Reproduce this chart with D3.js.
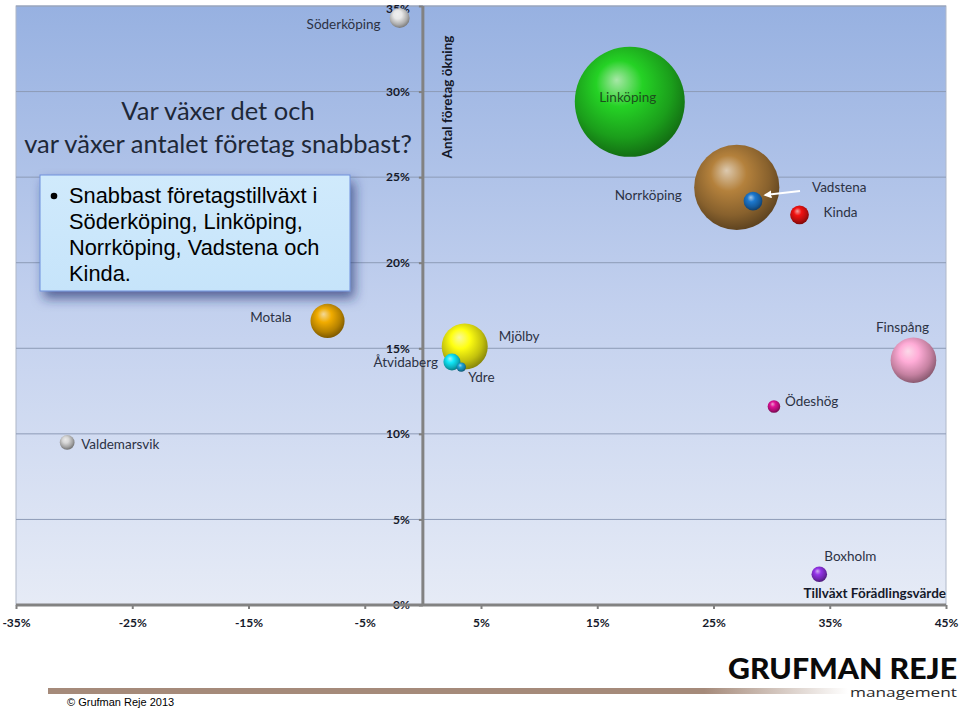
<!DOCTYPE html>
<html lang="sv">
<head>
<meta charset="UTF-8">
<title>Var växer det och var växer antalet företag snabbast?</title>
<script src="https://cdnjs.cloudflare.com/ajax/libs/d3/7.8.5/d3.min.js"></script>
<style>
  body { margin: 0; background: #ffffff; }
  svg { display: block; }
</style>
</head>
<body>
<script>
    // Data
    var kommuner = ["Söderköping", "Linköping", "Norrköping", "Vadstena", "Kinda", "Motala", "Mjölby",
                    "Åtvidaberg", "Ydre", "Finspång", "Ödeshög", "Boxholm", "Valdemarsvik"];
    // Tillväxt förädlingsvärde (%)
    var tillvaxt = [-2.0, 17.8, 27.0, 28.4, 32.4, -8.2, 3.6, 2.5, 3.3, 42.2, 30.2, 34.1, -30.6];
    // Antal företag ökning (%)
    var foretagOkning = [34.3, 29.4, 24.4, 23.6, 22.8, 16.6, 15.1, 14.2, 13.9, 14.3, 11.6, 1.8, 9.5];
    // Bubble size (relative)
    var storlek = [3.3, 100, 60, 2.9, 2.9, 9.6, 17.5, 2.4, 0.73, 17.2, 1.3, 2.0, 1.8];

    var xTicks = [-35, -25, -15, -5, 5, 15, 25, 35, 45];
    var yTicks = [0, 5, 10, 15, 20, 25, 30, 35];

    var kulFarger = ["#d8d8d8", "#22c422", "#a87838", "#1a70c0", "#e01010", "#e0a000", "#f0ee10",
                     "#10d8e8", "#1a98c8", "#f4a0c8", "#d0108c", "#8a30d8", "#c8c8c8"];

    // label placement relative to bubble centre [dx, dy (baseline), anchor]
    var etiketter = {
        "Söderköping": [-19, 11, "end"],
        "Linköping": [-2, 0, "middle"],
        "Norrköping": [-55, 13, "end"],
        "Vadstena": [59, -9, "start"],
        "Kinda": [24, 2, "start"],
        "Motala": [-36, 1, "end"],
        "Mjölby": [34, -6, "start"],
        "Åtvidaberg": [-14, 5, "end"],
        "Ydre": [7, 15, "start"],
        "Finspång": [-11, -28, "middle"],
        "Ödeshög": [11, 0, "start"],
        "Boxholm": [5, -13, "start"],
        "Valdemarsvik": [14, 7, "start"]
    };

    var data = kommuner.map(function(k, i) {
        return {namn: k, x: tillvaxt[i], y: foretagOkning[i], s: storlek[i]};
    });

    var W = 960, H = 710;
    var svg = d3.select("body").append("svg").attr("width", W).attr("height", H);
    var defs = svg.append("defs");

    var xScale = d3.scaleLinear().domain([-35, 45]).range([16, 946]);
    var yScale = d3.scaleLinear().domain([0, 35]).range([605, 6]);
    var rScale = d3.scaleSqrt().domain([0, 100]).range([0, 55]);
    var farg = d3.scaleOrdinal(kommuner, kulFarger);

    // plot background gradient
    var bg = defs.append("linearGradient").attr("id", "bg").attr("x1", 0).attr("y1", 0).attr("x2", 0).attr("y2", 1);
    bg.append("stop").attr("offset", "0%").attr("stop-color", "#97b1e1");
    bg.append("stop").attr("offset", "50%").attr("stop-color", "#c2d0ee");
    bg.append("stop").attr("offset", "100%").attr("stop-color", "#e6ebf6");

    svg.append("rect")
        .attr("x", xScale(-35)).attr("y", yScale(35))
        .attr("width", xScale(45) - xScale(-35)).attr("height", yScale(0) - yScale(35))
        .attr("fill", "url(#bg)")
        .attr("stroke", "#b0b8c8").attr("stroke-width", 1);

    // horizontal gridlines
    svg.append("g").selectAll("line")
        .data(yTicks.filter(function(d) { return d > 0; }))
        .enter().append("line")
        .attr("x1", xScale(-35)).attr("x2", xScale(45))
        .attr("y1", function(d) { return yScale(d); })
        .attr("y2", function(d) { return yScale(d); })
        .attr("stroke", "#8d9bb6").attr("stroke-width", 1);

    // title
    var titel = svg.append("text")
        .attr("text-anchor", "middle")
        .style("font-family", "Lato, 'Open Sans', sans-serif")
        .style("font-size", "25.5px")
        .attr("fill", "#1e2838");
    titel.append("tspan").attr("x", 218).attr("y", 120).text("Var växer det och");
    titel.append("tspan").attr("x", 218).attr("y", 153).text("var växer antalet företag snabbast?");

    // axes
    var axisFont = "Lato, 'Open Sans', sans-serif";
    var yAxis = d3.axisLeft(yScale).tickValues(yTicks).tickFormat(function(d) { return d + "%"; })
        .tickSize(4).tickPadding(9);
    var gy = svg.append("g").attr("transform", "translate(" + xScale(0) + ",0)").call(yAxis);
    gy.select(".domain").remove();
    gy.selectAll("line").attr("stroke", "#808080").attr("stroke-width", 2);
    gy.selectAll("text").style("font-family", axisFont).style("font-size", "12px")
        .style("font-weight", "bold").attr("fill", "#15192a");
    // keep the top label inside the picture
    gy.selectAll(".tick").filter(function(d) { return d === 35; }).select("text").attr("dy", "0.55em");

    var xAxis = d3.axisBottom(xScale).tickValues(xTicks).tickFormat(function(d) { return d + "%"; })
        .tickSize(4).tickPadding(9);
    var gx = svg.append("g").attr("transform", "translate(0," + yScale(0) + ")").call(xAxis);
    gx.select(".domain").remove();
    gx.selectAll("line").attr("stroke", "#808080").attr("stroke-width", 2);
    gx.selectAll("text").style("font-family", axisFont).style("font-size", "12px")
        .style("font-weight", "bold").attr("fill", "#15192a");

    svg.append("line")
        .attr("x1", xScale(0)).attr("x2", xScale(0))
        .attr("y1", yScale(35)).attr("y2", yScale(0))
        .attr("stroke", "#828282").attr("stroke-width", 3);
    svg.append("line")
        .attr("x1", xScale(-35)).attr("x2", xScale(45))
        .attr("y1", yScale(0)).attr("y2", yScale(0))
        .attr("stroke", "#828282").attr("stroke-width", 3);

    // axis titles
    svg.append("text")
        .attr("transform", "translate(" + (xScale(0) + 29) + "," + 97 + ") rotate(-90)")
        .attr("text-anchor", "middle")
        .style("font-family", axisFont).style("font-size", "13.5px").style("font-weight", "bold")
        .attr("fill", "#15192a")
        .text("Antal företag ökning");
    svg.append("text")
        .attr("x", xScale(45)).attr("y", yScale(0) - 7)
        .attr("text-anchor", "end")
        .style("font-family", axisFont).style("font-size", "13.5px").style("font-weight", "bold")
        .attr("fill", "#15192a")
        .text("Tillväxt Förädlingsvärde");

    // sphere gradients
    data.forEach(function(d, i) {
        var c = d3.color(farg(d.namn));
        var g = defs.append("radialGradient").attr("id", "kula" + i)
            .attr("cx", "45%").attr("cy", "40%").attr("r", "60%")
            .attr("fx", "38%").attr("fy", "30%");
        g.append("stop").attr("offset", "0%").attr("stop-color", d3.interpolateRgb(c, "#ffffff")(0.6));
        g.append("stop").attr("offset", "35%").attr("stop-color", c.brighter(0.2));
        g.append("stop").attr("offset", "75%").attr("stop-color", c.darker(0.6));
        g.append("stop").attr("offset", "100%").attr("stop-color", c.darker(1.6));
    });

    var bubblor = data.slice().sort(function(a, b) { return b.s - a.s; });
    svg.append("g").selectAll("circle")
        .data(bubblor)
        .enter().append("circle")
        .attr("cx", function(d) { return xScale(d.x); })
        .attr("cy", function(d) { return yScale(d.y); })
        .attr("r", function(d) { return rScale(d.s); })
        .attr("fill", function(d) { return "url(#kula" + kommuner.indexOf(d.namn) + ")"; });

    // labels
    svg.append("g").selectAll("text")
        .data(data)
        .enter().append("text")
        .attr("x", function(d) { return xScale(d.x) + etiketter[d.namn][0]; })
        .attr("y", function(d) { return yScale(d.y) + etiketter[d.namn][1]; })
        .attr("text-anchor", function(d) { return etiketter[d.namn][2]; })
        .style("font-family", "Lato, 'Open Sans', sans-serif")
        .style("font-size", "13.5px")
        .attr("fill", function(d) { return d.namn === "Linköping" ? "#1d4f1d" : "#2c3244"; })
        .text(function(d) { return d.namn; });

    // arrow to Vadstena
    defs.append("marker").attr("id", "pil").attr("viewBox", "0 0 10 10")
        .attr("refX", 8).attr("refY", 5).attr("markerWidth", 4).attr("markerHeight", 4)
        .attr("orient", "auto")
        .append("path").attr("d", "M0,0L10,5L0,10z").attr("fill", "#ffffff");
    var vad = data[kommuner.indexOf("Vadstena")];
    svg.append("line")
        .attr("x1", xScale(vad.x) + 47).attr("y1", yScale(vad.y) - 10)
        .attr("x2", xScale(vad.x) + 12).attr("y2", yScale(vad.y) - 6)
        .attr("stroke", "#ffffff").attr("stroke-width", 2)
        .attr("marker-end", "url(#pil)");

    // callout box
    var skugga = defs.append("filter").attr("id", "skugga")
        .attr("x", "-20%").attr("y", "-20%").attr("width", "150%").attr("height", "160%");
    skugga.append("feDropShadow").attr("dx", 4).attr("dy", 7).attr("stdDeviation", 6)
        .attr("flood-color", "#1c2c6a").attr("flood-opacity", 0.65);
    var rutaGrad = defs.append("linearGradient").attr("id", "ruta").attr("x1", 0).attr("y1", 0).attr("x2", 0).attr("y2", 1);
    rutaGrad.append("stop").attr("offset", "0%").attr("stop-color", "#d0eafc");
    rutaGrad.append("stop").attr("offset", "100%").attr("stop-color", "#c6e4fa");

    svg.append("rect")
        .attr("x", 40).attr("y", 175).attr("width", 310).attr("height", 116)
        .attr("fill", "url(#ruta)").attr("stroke", "#6f8fdc").attr("stroke-width", 1)
        .attr("filter", "url(#skugga)");
    svg.append("circle").attr("cx", 54).attr("cy", 196).attr("r", 3.3).attr("fill", "#000");
    var rutaText = ["Snabbast företagstillväxt i", "Söderköping, Linköping,",
                    "Norrköping, Vadstena och", "Kinda."];
    svg.append("g").selectAll("text")
        .data(rutaText)
        .enter().append("text")
        .attr("x", 69)
        .attr("y", function(d, i) { return 203 + i * 26; })
        .style("font-family", "'Liberation Sans', Arial, sans-serif")
        .style("font-size", "21.8px")
        .attr("fill", "#000")
        .text(function(d) { return d; });

    // footer
    var bar = defs.append("linearGradient").attr("id", "bar").attr("x1", 0).attr("y1", 0).attr("x2", 1).attr("y2", 0);
    bar.append("stop").attr("offset", "0%").attr("stop-color", "#a58a7a");
    bar.append("stop").attr("offset", "82%").attr("stop-color", "#a58a7a");
    bar.append("stop").attr("offset", "100%").attr("stop-color", "#ffffff");
    svg.append("rect").attr("x", 48).attr("y", 688).attr("width", 800).attr("height", 6).attr("fill", "url(#bar)");

    svg.append("text")
        .attr("x", 67).attr("y", 706)
        .style("font-family", "'Liberation Sans', Arial, sans-serif")
        .style("font-size", "11px").attr("fill", "#000")
        .text("© Grufman Reje 2013");

    svg.append("text")
        .attr("x", 728).attr("y", 679)
        .attr("textLength", 229).attr("lengthAdjust", "spacingAndGlyphs")
        .style("font-family", "Lato, 'Open Sans', sans-serif")
        .style("font-size", "28px").style("font-weight", "900").attr("fill", "#0a0a0a")
        .text("GRUFMAN REJE");
    svg.append("text")
        .attr("x", 850).attr("y", 697)
        .attr("textLength", 107).attr("lengthAdjust", "spacingAndGlyphs")
        .style("font-family", "'Open Sans', Lato, sans-serif")
        .style("font-size", "12px").attr("fill", "#2a2a2a")
        .text("management");
</script>
</body>
</html>
